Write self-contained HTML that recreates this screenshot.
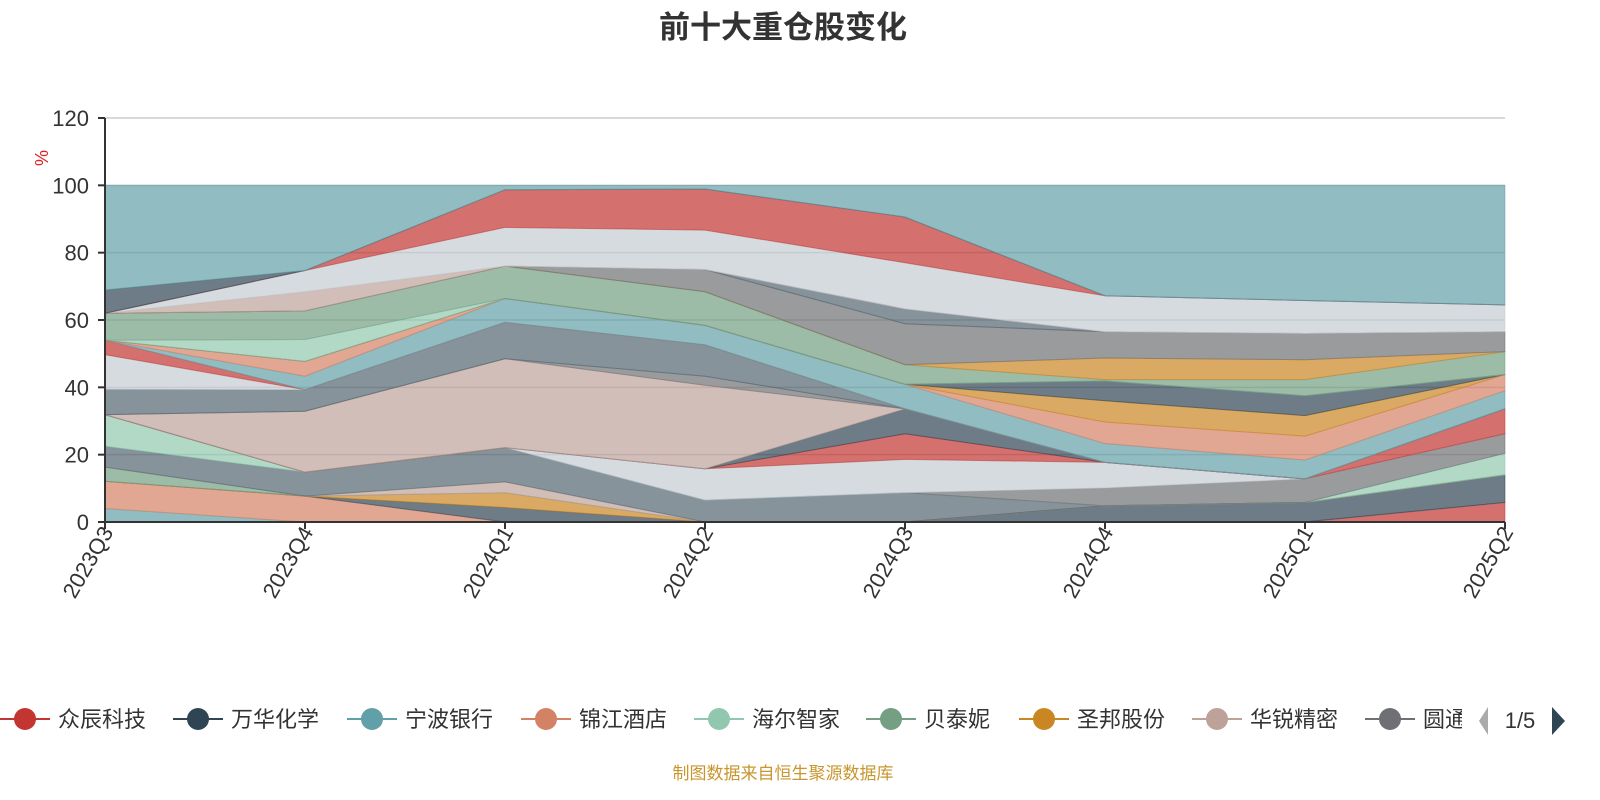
<!DOCTYPE html>
<html><head><meta charset="utf-8"><style>
html,body{margin:0;padding:0;background:#fff;}
svg{display:block;font-family:"Liberation Sans","Noto Sans CJK SC",sans-serif;}
</style></head><body>
<svg id="chart" width="1600" height="800" viewBox="0 0 1600 800">
<text x="783" y="38" text-anchor="middle" font-size="31" font-weight="bold" fill="#333">前十大重仓股变化</text>
<text transform="translate(48,158) rotate(-90)" text-anchor="middle" font-size="18" fill="#e02020">%</text>
<g id="grid"></g>
<g id="areas"></g>
<g id="axes"></g>
<g id="legend"></g>
<g>
<polygon points="1488,707 1488,735 1479,721" fill="#aaa"/>
<text x="1520" y="728" text-anchor="middle" font-size="22" fill="#333">1/5</text>
<polygon points="1552,707 1552,735 1565,721" fill="#2f4554"/>
</g>
<text x="783" y="779" text-anchor="middle" font-size="17" fill="#c8962e">制图数据来自恒生聚源数据库</text>
</svg>
<script>
const categories = ["2023Q3","2023Q4","2024Q1","2024Q2","2024Q3","2024Q4","2025Q1","2025Q2"];
const yTicks = [0,20,40,60,80,100,120];
const seriesNames = ["众辰科技","宁波银行A","锦江酒店","万华化学","圣邦股份","贝泰妮A","华锐精密A","持仓A","海尔智家","圆通速递","持仓B","持仓C","持仓D","华锐精密","持仓E","持仓F","持仓G","持仓H","宁波银行","锦江酒店B","圣邦股份B","持仓I","海尔智家B","贝泰妮","圣邦股份C","持仓J","持仓K","持仓L","持仓M","持仓N","持仓O","其他"];
const seriesColors = ["#c23531","#61a0a8","#d48265","#2f4554","#ca8622","#749f83","#bda29a","#546570","#91c7ae","#6e7074","#c4ccd3","#c23531","#2f4554","#bda29a","#6e7074","#546570","#c4ccd3","#c23531","#61a0a8","#d48265","#ca8622","#2f4554","#91c7ae","#749f83","#ca8622","#6e7074","#546570","#bda29a","#c4ccd3","#c23531","#2f4554","#61a0a8"];
const s01 = [0,0,0,0,0,0,0,5.8];
const s02 = [4,0,0,0,0,0,0,0];
const s03 = [8.1,7.7,0,0,0,0,0,0];
const s04 = [0,0,4.3,0,0,4.8,5.8,8.2];
const s05 = [0,0,4.4,0,0,0,0,0];
const s06 = [4.2,0,0,0,0,0,0,0];
const s07 = [0,0,3.2,0,0,0,0,0];
const s08 = [6.2,7.1,10.2,6.5,8.7,0,0,0];
const s09 = [9.4,0,0,0,0,0,0,6.4];
const s10 = [0,0,0,0,0,5.3,7,5.8];
const s11 = [0,0,0,9.3,9.9,7.6,0,0];
const s12 = [0,0,0,0,7.6,0,0,7.4];
const s13 = [0,0,0,0,7.4,0,0,0];
const s14 = [0,18.1,26.4,24.8,0,0,0,0];
const s15 = [0,0,0,2.7,0,0,0,0];
const s16 = [7.5,6.4,10.8,9.3,0,0,0,0];
const s17 = [10.3,0,0,0,0,0,0,0];
const s18 = [4.3,0,0,0,0,0,0,0];
const s19 = [0,4,7.1,5.8,7.3,5.6,5.6,5.4];
const s20 = [0,4.4,0,0,0,6.4,7.1,4.8];
const s21 = [0,0,0,0,0,6.3,6.1,0];
const s22 = [0,0,0,0,0,5.9,5.9,0];
const s23 = [0,6.5,0,0,0,0,0,0];
const s24 = [8,8.5,9.6,10,5.8,0.4,4.8,6.8];
const s25 = [0,0,0,0,0,6.4,5.9,0];
const s26 = [0,0,0,6.6,12.2,7.8,7.8,5.9];
const s27 = [0,0,0,0,4.4,0,0,0];
const s28 = [0,5.7,0,0,0,0,0,0];
const s29 = [0,6.3,11.5,11.7,13.7,10.7,9.8,8];
const s30 = [0,0,11.2,12.2,13.6,0,0,0];
const s31 = [6.9,0,0,0,0,0,0,0];
const s32 = [31.1,25.3,1.3,1.1,9.4,32.8,34.2,35.5];
const seriesValues = [s01,s02,s03,s04,s05,s06,s07,s08,s09,s10,s11,s12,s13,s14,s15,s16,s17,s18,s19,s20,s21,s22,s23,s24,s25,s26,s27,s28,s29,s30,s31,s32];
const legendNames = ["众辰科技","万华化学","宁波银行","锦江酒店","海尔智家","贝泰妮","圣邦股份","华锐精密","圆通"];
const legendColors = ["#c23531","#2f4554","#61a0a8","#d48265","#91c7ae","#749f83","#ca8622","#bda29a","#6e7074"];

const NS = "http://www.w3.org/2000/svg";
const X0 = 105, X1 = 1505, Y0 = 522, Y1 = 118, YMAX = 120;
function xPos(i){ return X0 + i * (X1 - X0) / (categories.length - 1); }
function yPos(v){ return Y0 - v * (Y0 - Y1) / YMAX; }
function mk(tag, attrs, parent){ const e = document.createElementNS(NS, tag); for (const k in attrs) e.setAttribute(k, attrs[k]); parent.appendChild(e); return e; }

const grid = document.getElementById('grid');
const axes = document.getElementById('axes');
yTicks.forEach(t => {
  if (t > 0) {
    const gl = mk('line', {x1:X0, x2:X1, y1:yPos(t), y2:yPos(t), stroke:'#ccc', 'stroke-width':1.5}, grid);
    
    
  }
  const tk = mk('line', {x1:X0-7, x2:X0, y1:yPos(t), y2:yPos(t), stroke:'#333', 'stroke-width':2}, axes);
  
  
  const lb = mk('text', {x:X0-16, y:yPos(t)+8, 'text-anchor':'end', 'font-size':22, fill:'#333'}, axes);
  lb.textContent = t;
  
  
});

const areas = document.getElementById('areas');
const cum = categories.map(() => 0);
seriesValues.forEach((vals, si) => {
  const lower = cum.slice();
  vals.forEach((v, i) => { cum[i] += v; });
  const top = cum.map((v, i) => xPos(i) + ',' + yPos(v));
  const bot = lower.map((v, i) => xPos(i) + ',' + yPos(v)).reverse();
  const p = mk('polygon', {points: top.concat(bot).join(' '), fill: seriesColors[si], 'fill-opacity':0.7, stroke: seriesColors[si], 'stroke-opacity':0.5, 'stroke-width':1}, areas);
  
  
});

const ya = mk('line', {x1:X0, x2:X0, y1:Y1, y2:Y0, stroke:'#333', 'stroke-width':2}, axes);


const xa = mk('line', {x1:X0, x2:X1, y1:Y0, y2:Y0, stroke:'#333', 'stroke-width':2}, axes);


categories.forEach((c, i) => {
  const tk = mk('line', {x1:xPos(i), x2:xPos(i), y1:Y0, y2:Y0+7, stroke:'#333', 'stroke-width':2}, axes);
  
  
  const lb = mk('text', {transform:'translate(' + (xPos(i)+9) + ',' + (Y0+10) + ') rotate(-60)', 'text-anchor':'end', 'font-size':22, fill:'#333'}, axes);
  lb.textContent = c;
  
  
});

const legend = document.getElementById('legend');
const legendX = [0,173,347,521,694,866,1019,1192,1365];
legendNames.forEach((n, i) => {
  const g = mk('g', {}, legend);
  
  
  const x = legendX[i];
  mk('line', {x1:x, x2:x+50, y1:719, y2:719, stroke:legendColors[i], 'stroke-width':2}, g);
  mk('circle', {cx:x+25, cy:719, r:11, fill:legendColors[i]}, g);
  const t = mk('text', {x:x+58, y:727, 'font-size':22, fill:'#333'}, g);
  t.textContent = n;
});
const clip = mk('clipPath', {id:'lgclip'}, document.getElementById('chart'));
mk('rect', {x:0, y:690, width:1462, height:60}, clip);
legend.setAttribute('clip-path', 'url(#lgclip)');
</script>
</body></html>
